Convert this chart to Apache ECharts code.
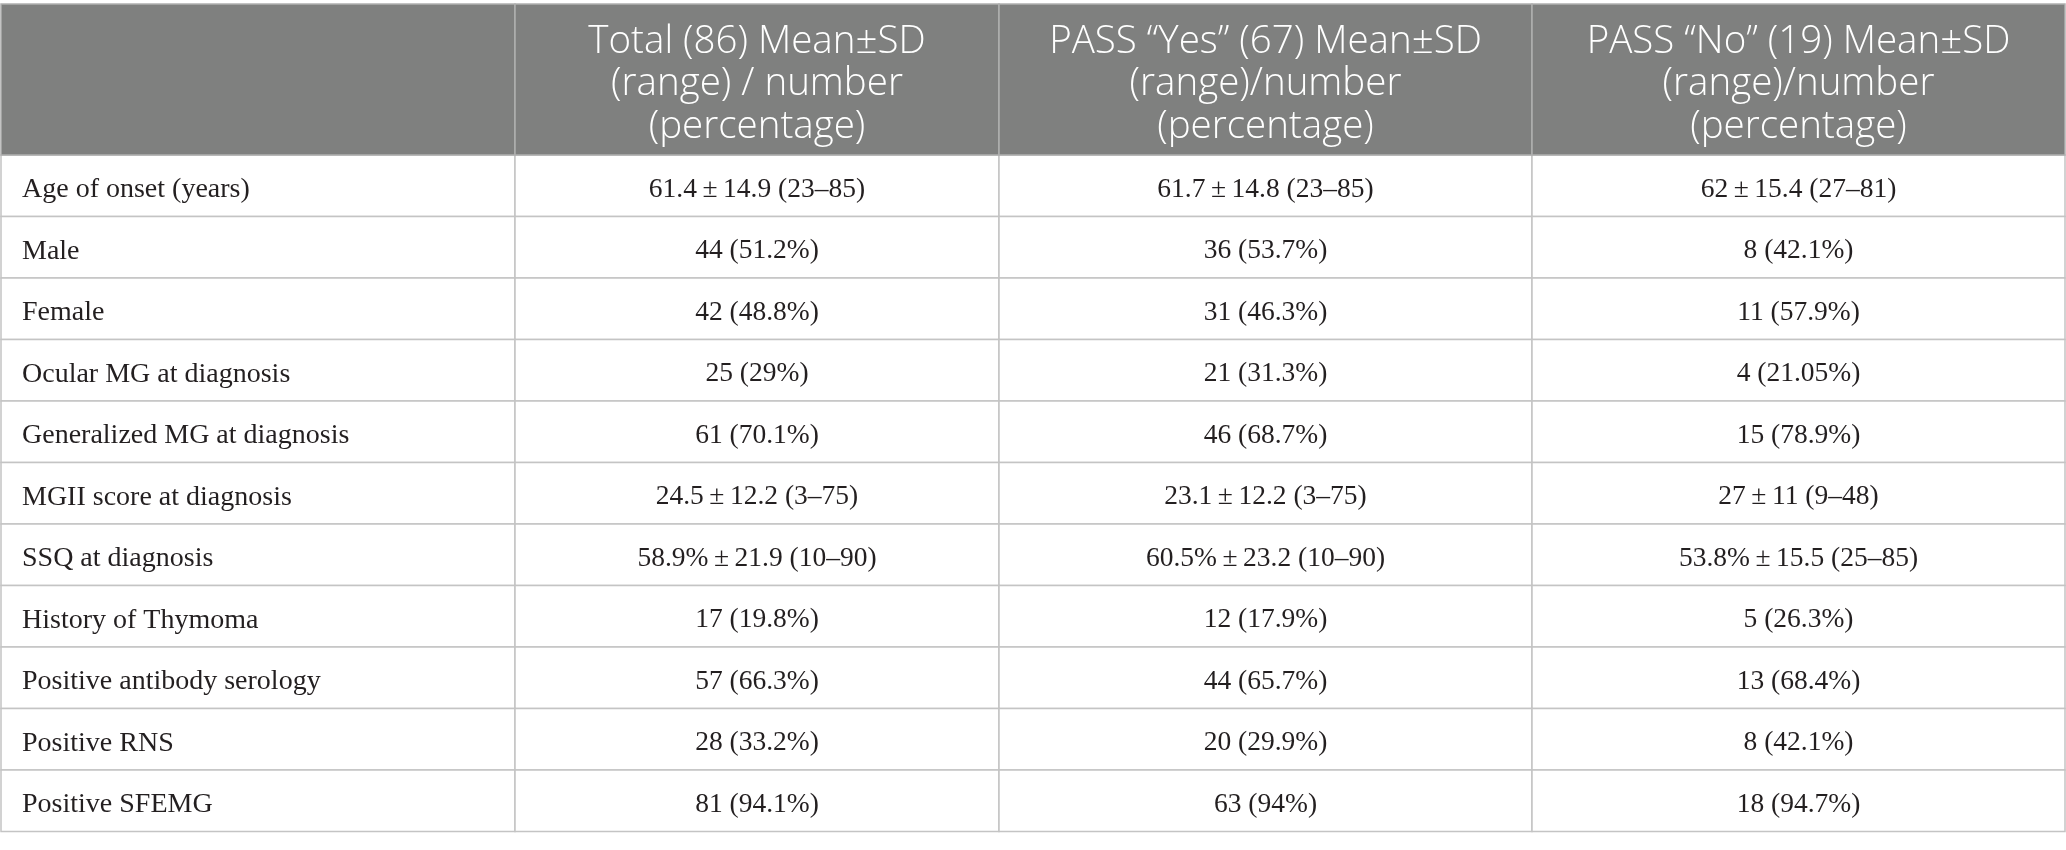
<!DOCTYPE html>
<html>
<head>
<meta charset="utf-8">
<title>Table</title>
<script src="https://cdn.jsdelivr.net/npm/echarts@6/dist/echarts.min.js"></script>
<style>
  html, body { margin: 0; padding: 0; background: #fff; }
  #main { width: 2066px; height: 850px; }
</style>
</head>
<body>
<div id="main"></div>
<script>
// table content
var headers = [
  '',
  'Total (86) Mean\u00b1SD\n(range) / number\n(percentage)',
  'PASS \u201cYes\u201d (67) Mean\u00b1SD\n(range)/number\n(percentage)',
  'PASS \u201cNo\u201d (19) Mean\u00b1SD\n(range)/number\n(percentage)'
]
var rowLabels = [
  'Age of onset (years)',
  'Male',
  'Female',
  'Ocular MG at diagnosis',
  'Generalized MG at diagnosis',
  'MGII score at diagnosis',
  'SSQ at diagnosis',
  'History of Thymoma',
  'Positive antibody serology',
  'Positive RNS',
  'Positive SFEMG'
]
var totalVals = [
  '61.4\u2009\u00b1\u200914.9 (23\u201385)',
  '44 (51.2%)',
  '42 (48.8%)',
  '25 (29%)',
  '61 (70.1%)',
  '24.5\u2009\u00b1\u200912.2 (3\u201375)',
  '58.9%\u2009\u00b1\u200921.9 (10\u201390)',
  '17 (19.8%)',
  '57 (66.3%)',
  '28 (33.2%)',
  '81 (94.1%)'
]
var passYesVals = [
  '61.7\u2009\u00b1\u200914.8 (23\u201385)',
  '36 (53.7%)',
  '31 (46.3%)',
  '21 (31.3%)',
  '46 (68.7%)',
  '23.1\u2009\u00b1\u200912.2 (3\u201375)',
  '60.5%\u2009\u00b1\u200923.2 (10\u201390)',
  '12 (17.9%)',
  '44 (65.7%)',
  '20 (29.9%)',
  '63 (94%)'
]
var passNoVals = [
  '62\u2009\u00b1\u200915.4 (27\u201381)',
  '8 (42.1%)',
  '11 (57.9%)',
  '4 (21.05%)',
  '15 (78.9%)',
  '27\u2009\u00b1\u200911 (9\u201348)',
  '53.8%\u2009\u00b1\u200915.5 (25\u201385)',
  '5 (26.3%)',
  '13 (68.4%)',
  '8 (42.1%)',
  '18 (94.7%)'
]

// layout (in axis units = page pixels)
var colEdges = [1, 515, 999, 1532, 2065]
var headerTop = 4
var headerBottom = 155
var rowHeight = 61.5

var columns = [rowLabels, totalVals, passYesVals, passNoVals]

var headerData = []
for (var c = 0; c < headers.length; c++) {
  headerData.push([c, 0])
}
var bodyData = []
for (var r = 0; r < rowLabels.length; r++) {
  for (var k = 0; k < columns.length; k++) {
    bodyData.push([k, r])
  }
}

function renderHeader(params, api) {
  var c = api.value(0)
  var p0 = api.coord([colEdges[c], headerTop])
  var p1 = api.coord([colEdges[c + 1], headerBottom])
  return {
    type: 'group',
    children: [
      {
        type: 'rect',
        shape: { x: p0[0], y: p0[1], width: p1[0] - p0[0], height: p1[1] - p0[1] },
        style: { fill: '#7f807f', stroke: '#b0b0b0', lineWidth: 1.5 }
      },
      {
        type: 'text',
        style: {
          x: (p0[0] + p1[0]) / 2,
          y: (p0[1] + p1[1]) / 2 + 5,
          text: headers[c],
          align: 'center',
          verticalAlign: 'middle',
          font: '300 38.5px "Open Sans"',
          lineHeight: 42.5,
          fill: '#ffffff'
        }
      }
    ]
  }
}

function renderBody(params, api) {
  var c = api.value(0)
  var r = api.value(1)
  var p0 = api.coord([colEdges[c], headerBottom + r * rowHeight])
  var p1 = api.coord([colEdges[c + 1], headerBottom + (r + 1) * rowHeight])
  return {
    type: 'group',
    children: [
      {
        type: 'rect',
        shape: { x: p0[0], y: p0[1], width: p1[0] - p0[0], height: p1[1] - p0[1] },
        style: { fill: '#ffffff', stroke: '#c4c4c4', lineWidth: 1.5 }
      },
      {
        type: 'text',
        style: {
          x: c === 0 ? p0[0] + 21 : (p0[0] + p1[0]) / 2,
          y: (p0[1] + p1[1]) / 2 + 4,
          text: columns[c][r],
          align: c === 0 ? 'left' : 'center',
          verticalAlign: 'middle',
          font: (c === 0 ? '28px' : '27.5px') + ' "Liberation Serif"',
          fill: '#231f20'
        }
      }
    ]
  }
}

var chart = echarts.init(document.getElementById('main'))
var option = {
  animation: false,
  backgroundColor: '#ffffff',
  grid: { left: 0, right: 0, top: 0, bottom: 0 },
  xAxis: { type: 'value', min: 0, max: 2066, show: false },
  yAxis: { type: 'value', min: 0, max: 850, inverse: true, show: false },
  series: [
    {
      type: 'custom',
      name: 'body',
      renderItem: renderBody,
      clip: false,
      silent: true,
      data: bodyData
    },
    {
      type: 'custom',
      name: 'header',
      renderItem: renderHeader,
      clip: false,
      silent: true,
      data: headerData
    }
  ]
}
chart.setOption(option)
</script>
</body>
</html>
